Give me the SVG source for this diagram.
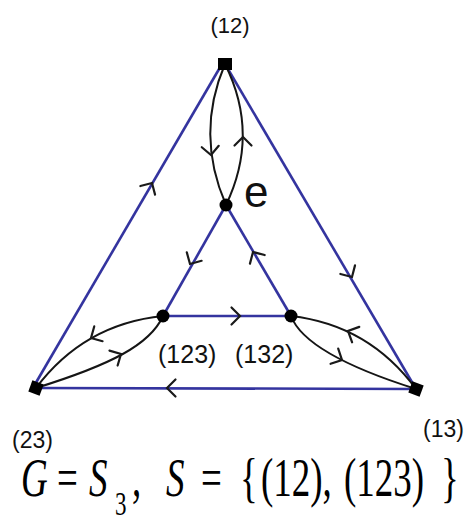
<svg xmlns="http://www.w3.org/2000/svg" xmlns:xlink="http://www.w3.org/1999/xlink" width="467" height="522" viewBox="0 0 467 522">
<style>
.blue{stroke:#34349f;stroke-width:2.6;fill:none}
.curve{stroke:#151515;stroke-width:2;fill:none}
.chev{stroke:#1a1a1a;stroke-width:2.2;fill:none;stroke-linecap:round;stroke-linejoin:miter}
.node{fill:#000}
.lbl{font-family:"Liberation Sans",Arial,sans-serif;fill:#111}
.math{font-family:"Liberation Serif","Times New Roman",serif;fill:#000}
</style>
<defs>
<path id="chev" class="chev" d="M-8.5,-8.5 L0,0 L-8.5,8.5"/>
</defs>
<rect width="467" height="522" fill="#fff"/>
<g id="connectors">
<line class="blue" x1="34" y1="386" x2="222" y2="64"/>
<line class="blue" x1="225" y1="64" x2="416" y2="389"/>
<line class="blue" x1="36" y1="388" x2="416" y2="389"/>
<line class="blue" x1="226" y1="205" x2="163" y2="316"/>
<line class="blue" x1="226" y1="205" x2="291" y2="316"/>
<line class="blue" x1="163" y1="316" x2="291" y2="316"/>
<path class="curve" d="M225,64 Q195,134 226,205"/>
<path class="curve" d="M225,64 Q260,134 226,205"/>
<path class="curve" d="M163,316 Q84,324 36,388"/>
<path class="curve" d="M163,316 C150,345 110,365 36,388"/>
<path class="curve" d="M291,316 Q369,325 416,389"/>
<path class="curve" d="M291,316 C300,340 340,365 416,389"/>
<use xlink:href="#chev" transform="translate(152,183) rotate(-59.7)"/>
<use xlink:href="#chev" transform="translate(352,277) rotate(59.5)"/>
<use xlink:href="#chev" transform="translate(190,264) rotate(119.6)"/>
<use xlink:href="#chev" transform="translate(253,252) rotate(-120.4)"/>
<use xlink:href="#chev" transform="translate(240,316) rotate(0)"/>
<use xlink:href="#chev" transform="translate(167,388) rotate(180)"/>
<use xlink:href="#chev" transform="translate(211,155) rotate(85)"/>
<use xlink:href="#chev" transform="translate(243,137) rotate(-90)"/>
<use xlink:href="#chev" transform="translate(91,338) rotate(150.6)"/>
<use xlink:href="#chev" transform="translate(121,354) rotate(-28.7)"/>
<use xlink:href="#chev" transform="translate(348,331) rotate(-155)"/>
<use xlink:href="#chev" transform="translate(342,360) rotate(26.6)"/>
</g>
<g id="n12">
<rect class="node" x="218" y="58" width="14" height="12"/>
<text class="lbl" x="230" y="33" font-size="22" text-anchor="middle">(12)</text>
</g>
<g id="ne">
<circle class="node" cx="226" cy="205" r="6.5"/>
<text class="lbl" x="244" y="207" font-size="44" fill="#2a2a2a">e</text>
</g>
<g id="n123">
<circle class="node" cx="163" cy="316" r="6.5"/>
<text class="lbl" x="158" y="363" font-size="25">(123)</text>
</g>
<g id="n132">
<circle class="node" cx="291" cy="316" r="6.5"/>
<text class="lbl" x="235" y="363" font-size="25">(132)</text>
</g>
<g id="n23">
<rect class="node" x="30" y="382" width="12" height="12" transform="rotate(20 36 388)"/>
<text class="lbl" x="12" y="448" font-size="23">(23)</text>
</g>
<g id="n13">
<rect class="node" x="410" y="383" width="12" height="12" transform="rotate(20 416 389)"/>
<text class="lbl" x="423" y="437" font-size="23">(13)</text>
</g>
<g id="formula" class="math" transform="translate(0,496) scale(1,1.5)" font-size="37">
<text x="21" font-style="italic">G</text>
<text x="57">=</text>
<text x="89" font-style="italic">S</text>
<text x="115" y="12.5" font-size="23">3</text>
<text x="132">,</text>
<text x="166" font-style="italic">S</text>
<text x="201">=</text>
<text x="240">{</text>
<text x="261">(12),</text>
<text x="344">(123)</text>
<text x="441">}</text>
</g>
</svg>
